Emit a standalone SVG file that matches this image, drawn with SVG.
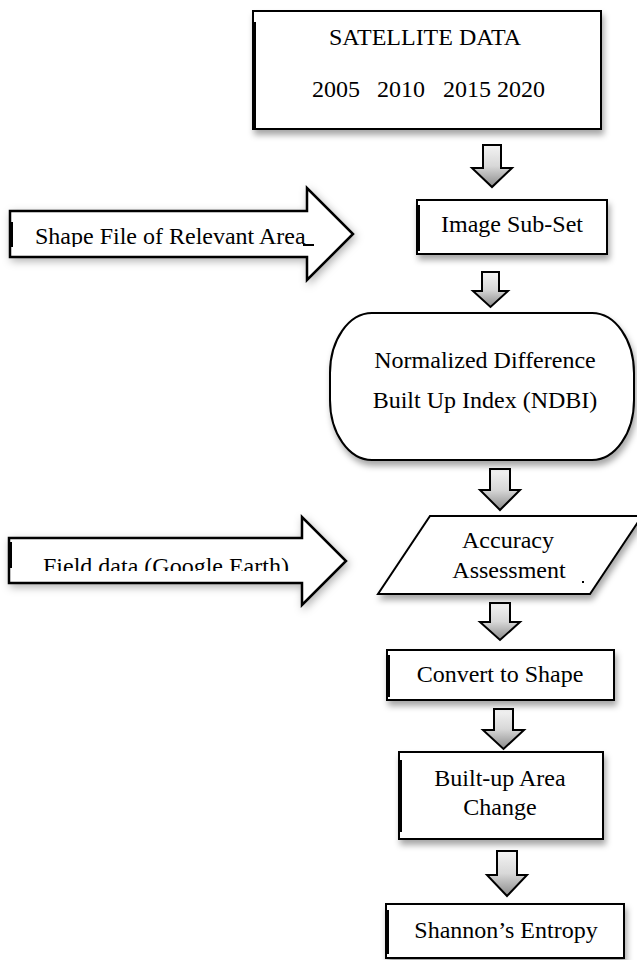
<svg xmlns="http://www.w3.org/2000/svg" width="637" height="960" viewBox="0 0 637 960">
<defs>
<style>
.t{font-family:"Liberation Serif","Times New Roman",serif;font-size:24px;fill:#000}
.m{text-anchor:middle}
.box{fill:#fff;stroke:#000;stroke-width:2}
.blk{fill:url(#g);stroke:#000;stroke-width:2;stroke-linejoin:miter}
.big{fill:#fff;stroke:#000;stroke-width:2.5;stroke-linejoin:miter}
</style>
<linearGradient id="g" x1="0" y1="0" x2="0" y2="1">
<stop offset="0" stop-color="#f4f4f4"/>
<stop offset="0.5" stop-color="#d8d8d8"/>
<stop offset="1" stop-color="#8a8a8a"/>
</linearGradient>
<filter id="sh" x="-10%" y="-10%" width="130%" height="140%">
<feDropShadow dx="2" dy="5" stdDeviation="3" flood-color="#000" flood-opacity="0.35"/>
</filter>
<filter id="sh2" x="-10%" y="-20%" width="130%" height="150%">
<feDropShadow dx="2" dy="3" stdDeviation="4" flood-color="#000" flood-opacity="0.3"/>
</filter>
<clipPath id="c1"><rect x="0" y="200" width="360" height="47"/></clipPath>
<clipPath id="c2"><rect x="0" y="530" width="360" height="41"/></clipPath>
</defs>
<rect width="637" height="960" fill="#fff"/>

<g id="connectors">
<g id="shape-file-arrow">
<path class="big" filter="url(#sh2)" d="M10,211 H307 V188 L353,234 L307,280 V257 H10 Z"/>
<rect x="9" y="222" width="4" height="25" fill="#000"/>
<text class="t" x="35" y="244" clip-path="url(#c1)">Shape File of Relevant Area</text>
<rect x="303" y="244" width="11" height="2" fill="#000"/>
</g>
<g id="field-data-arrow">
<path class="big" filter="url(#sh2)" d="M9,538 H302 V517 L346,561 L302,605 V583 H9 Z"/>
<rect x="8" y="542" width="4" height="26" fill="#000"/>
<text class="t" x="43" y="574" clip-path="url(#c2)">Field data (Google Earth)</text>
</g>
<path class="blk" d="M483,145 H501 V168 H512 L492,187 L472,168 H483 Z"/>
<path class="blk" d="M482,272 H499 V291 H508 L490.5,307 L473,291 H482 Z"/>
<path class="blk" d="M490,469 H510 V490 H520 L500,510 L480,490 H490 Z"/>
<path class="blk" d="M490,603 H510 V622 H520 L500,640 L480,622 H490 Z"/>
<path class="blk" d="M494,709 H513 V730 H524 L503.5,749 L483,730 H494 Z"/>
<path class="blk" d="M497,851 H517 V875 H527 L507,896 L487,875 H497 Z"/>
</g>

<g id="satellite-data">
<rect class="box" filter="url(#sh)" x="253" y="11" width="348" height="118"/>
<rect x="253" y="22" width="3" height="106" fill="#000"/>
<text class="t m" x="425" y="45">SATELLITE DATA</text>
<text class="t" y="97"><tspan x="312">2005</tspan><tspan x="377">2010</tspan><tspan x="443">2015</tspan><tspan x="497">2020</tspan></text>
</g>

<g id="image-subset">
<rect class="box" filter="url(#sh)" x="417" y="200" width="190" height="54"/>
<rect x="417" y="205" width="3" height="46" fill="#000"/>
<text class="t m" x="512" y="232">Image Sub-Set</text>
</g>

<g id="ndbi">
<path class="box" filter="url(#sh)" d="M372,313 H592 A42 60 0 0 1 634,373 V400 A42 60 0 0 1 592,460 H372 A42 60 0 0 1 330,400 V373 A42 60 0 0 1 372,313 Z"/>
<text class="t m" x="485" y="368">Normalized Difference</text>
<text class="t m" x="485" y="408">Built Up Index (NDBI)</text>
</g>

<g id="accuracy-assessment">
<path class="box" filter="url(#sh)" d="M430,516 H642 L590,594 H378 Z"/>
<text class="t m" x="508" y="548">Accuracy</text>
<text class="t m" x="509" y="578">Assessment</text>
<rect x="582" y="581" width="2" height="2" fill="#000"/>
</g>

<g id="convert-to-shape">
<rect class="box" filter="url(#sh)" x="387" y="650" width="227" height="50"/>
<rect x="387" y="655" width="3" height="42" fill="#000"/>
<text class="t m" x="500" y="682">Convert to Shape</text>
</g>

<g id="built-up-area-change">
<rect class="box" filter="url(#sh)" x="399" y="752" width="204" height="87"/>
<rect x="399" y="760" width="3" height="72" fill="#000"/>
<text class="t m" x="500" y="786">Built-up Area</text>
<text class="t m" x="500" y="815">Change</text>
</g>

<g id="shannons-entropy">
<rect class="box" filter="url(#sh)" x="386" y="904" width="238" height="54"/>
<rect x="386" y="910" width="3" height="44" fill="#000"/>
<text class="t m" x="506" y="938">Shannon’s Entropy</text>
</g>
</svg>
